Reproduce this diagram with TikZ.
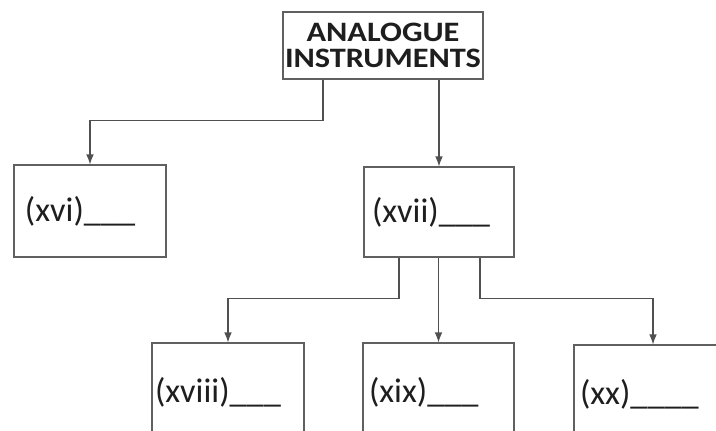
\documentclass[tikz,border=0pt]{standalone}
\usepackage{fontspec}
\usepackage{xcolor}
\usepackage{tikz}
\usetikzlibrary{arrows.meta}
\setmainfont{Carlito}
\newfontfamily\headfont[FakeStretch=1.15]{Carlito}
\definecolor{linegray}{HTML}{505050}
\definecolor{boxgray}{HTML}{606060}
\definecolor{inkgray}{HTML}{1E1E1E}

\begin{document}
\begin{tikzpicture}[
  box/.style={draw=boxgray, line width=0.6pt, text=inkgray, align=left,
    inner ysep=0pt, font=\fontsize{19.5}{22}\selectfont},
  link/.style={draw=linegray, line width=0.6pt, -{Latex[length=2mm,width=1.5mm]}}]
\useasboundingbox (0,0) rectangle (14.32,-8.6);
\clip (0,0) rectangle (14.32,-8.6);
\fill[white] (0,0) rectangle (14.32,-8.6);
% heading
\node[box, align=center, inner xsep=0pt, minimum width=4.0cm, minimum height=1.34cm,
  font=\headfont\bfseries\fontsize{16}{15}\selectfont] (top) at (7.66,-0.91)
  {ANALOGUE\\INSTRUMENTS};
% second row
\node[box, inner xsep=0.22cm, text width=2.60cm, minimum height=1.84cm] (xvi) at (1.80,-4.22) {(xvi)\_\_\_};
\node[box, inner xsep=0.16cm, text width=2.68cm, minimum height=1.80cm] (xvii) at (8.78,-4.24) {(xvii)\_\_\_};
% third row
\node[box, inner xsep=0.06cm, text width=2.92cm, minimum height=1.96cm] (xviii) at (4.56,-7.84) {(xviii)\_\_\_};
\node[box, inner xsep=0.12cm, text width=2.78cm, minimum height=1.96cm] (xix) at (8.77,-7.84) {(xix)\_\_\_};
\node[box, inner xsep=0.12cm, text width=2.92cm, minimum height=1.96cm] (xx) at (13.06,-7.88) {(xx)\_\_\_\_};
% connectors
\draw[link] ([xshift=-1.2cm]top.south) -- ++(0,-0.82) -| (xvi);
\draw[link] (top.south -| xvii) -- (xvii);
\draw[link] ([xshift=-0.80cm]xvii.south) -- ++(0,-0.82) -| (xviii);
\draw[link] (xvii.south -| xix) -- (xix);
\draw[link] ([xshift=0.82cm]xvii.south) -- ++(0,-0.82) -| (xx);
\end{tikzpicture}
\end{document}
